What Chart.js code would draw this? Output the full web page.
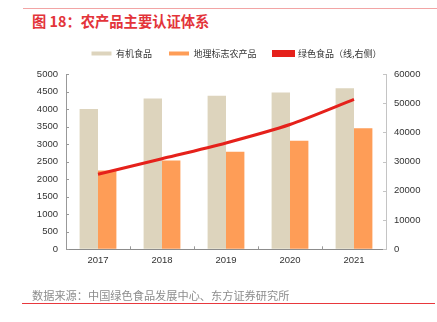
<!DOCTYPE html>
<html>
<head>
<meta charset="utf-8">
<script src="https://cdn.jsdelivr.net/npm/chart.js@4.4.1/dist/chart.umd.min.js"></script>
<style>
  html, body { margin: 0; padding: 0; background: #fff; }
  body { width: 437px; height: 322px; position: relative; overflow: hidden; font-family: "Noto Sans CJK SC", "Noto Sans", sans-serif; }
  #wrap { position: absolute; left: 0; top: 0; width: 437px; height: 322px; }
  .rule { position: absolute; height: 1px; }
  #title { position: absolute; left: 32px; top: 10px; font-size: 14.3px; font-weight: bold; color: #e3343a; white-space: nowrap; }
  #src { position: absolute; left: 32px; top: 287px; font-size: 11.2px; color: #8c8c8c; white-space: nowrap; }
</style>
</head>
<body>
<div class="rule" style="left:23px; top:8px; width:414px; background:#f2a5a5;"></div>
<div id="title">图 18：农产品主要认证体系</div>
<div id="wrap"><canvas id="c" width="437" height="322"></canvas></div>
<div id="src">数据来源：中国绿色食品发展中心、东方证券研究所</div>
<div class="rule" style="left:22px; top:303px; width:413px; background:#e8383d;"></div>

<script>
// ==========================================
// 数据
// ==========================================
const years = ['2017', '2018', '2019', '2020', '2021'];
const organicFood = [4000, 4300, 4380, 4470, 4590];       // 有机食品 (左轴)
const geoProducts = [2245, 2530, 2785, 3095, 3450];       // 地理标志农产品 (左轴)
const greenFood = [25700, 31000, 36400, 42700, 51300];    // 绿色食品 (右轴)
const leftTicks = [0, 500, 1000, 1500, 2000, 2500, 3000, 3500, 4000, 4500, 5000];
const rightTicks = [0, 10000, 20000, 30000, 40000, 50000, 60000];

const tickFont = { family: "'Liberation Sans', Arial, sans-serif", size: 9.5 };
const plainNum = v => String(v);

// 坐标轴刻度线画在图内侧
const innerTicks = {
  id: 'innerTicks',
  afterDraw(chart) {
    const { ctx, chartArea: a, scales } = chart;
    ctx.save();
    ctx.lineWidth = 1;
    ctx.strokeStyle = '#999';
    leftTicks.forEach(v => {
      const y = Math.round(scales.y.getPixelForValue(v)) + 0.5;
      ctx.beginPath(); ctx.moveTo(a.left, y); ctx.lineTo(a.left + 3, y); ctx.stroke();
    });
    ctx.strokeStyle = '#c4c4c4';
    rightTicks.forEach(v => {
      const y = Math.round(scales.y1.getPixelForValue(v)) + 0.5;
      ctx.beginPath(); ctx.moveTo(a.right - 3, y); ctx.lineTo(a.right, y); ctx.stroke();
    });
    ctx.strokeStyle = '#999';
    const step = scales.x.getPixelForValue(1) - scales.x.getPixelForValue(0);
    for (let i = 1; i < years.length; i++) {
      const x = Math.round(scales.x.getPixelForValue(i) - step / 2) + 0.5;
      ctx.beginPath(); ctx.moveTo(x, a.bottom); ctx.lineTo(x, a.bottom - 3); ctx.stroke();
    }
    ctx.restore();
  }
};

// 图例与绘图区之间留出空隙，整体略向右移
const legendFit = {
  id: 'legendFit',
  beforeInit(chart) {
    const fit = chart.legend.fit;
    chart.legend.fit = function () { fit.call(this); this.height += 6; };
  },
  afterLayout(chart) {
    chart.legend.left += 18;
    chart.legend.right += 18;
  }
};

new Chart(document.getElementById('c'), {
  type: 'bar',
  data: {
    labels: years,
    datasets: [
      { label: '有机食品', data: organicFood, backgroundColor: '#ddd4bd', yAxisID: 'y', order: 2,
        barPercentage: 1, categoryPercentage: 0.575 },
      { label: '地理标志农产品', data: geoProducts, backgroundColor: '#fe9d57', yAxisID: 'y', order: 2,
        barPercentage: 1, categoryPercentage: 0.575 },
      { type: 'line', label: '绿色食品（线,右侧）', data: greenFood, yAxisID: 'y1', order: 1,
        borderColor: '#e5211b', backgroundColor: '#e5211b', borderWidth: 3, pointRadius: 0, tension: 0.25 }
    ]
  },
  options: {
    responsive: false,
    animation: false,
    layout: { padding: { top: 32, bottom: 52, left: 0, right: 0 } },
    plugins: {
      tooltip: { enabled: false },
      legend: {
        position: 'top',
        labels: { boxWidth: 20, boxHeight: 4, padding: 17, color: '#333',
                  font: { family: "'Noto Sans CJK SC', sans-serif", size: 9 },
                  sort: (a, b) => a.datasetIndex - b.datasetIndex }
      }
    },
    scales: {
      x: {
        grid: { drawOnChartArea: false, drawTicks: false },
        border: { color: '#8c8c8c' },
        ticks: { color: '#333', font: tickFont, padding: 5 },
        afterFit(s) { s.height = 20.7; }
      },
      y: {
        position: 'left', min: 0, max: 5000,
        grid: { drawOnChartArea: false, drawTicks: false },
        border: { color: '#999' },
        ticks: { stepSize: 500, color: '#333', font: tickFont, padding: 8, callback: plainNum },
        afterFit(s) { s.width = 66; }
      },
      y1: {
        position: 'right', min: 0, max: 60000,
        grid: { drawOnChartArea: false, drawTicks: false },
        border: { color: '#c4c4c4' },
        ticks: { stepSize: 10000, color: '#333', font: tickFont, padding: 8, callback: plainNum },
        afterFit(s) { s.width = 51; }
      }
    }
  },
  plugins: [innerTicks, legendFit]
});
</script>
</body>
</html>
